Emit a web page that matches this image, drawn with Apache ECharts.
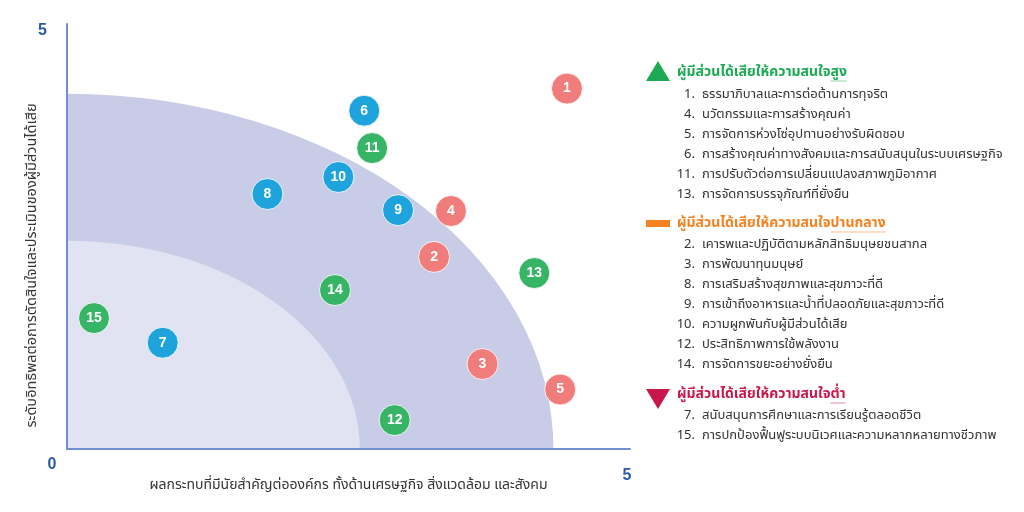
<!DOCTYPE html>
<html><head><meta charset="utf-8">
<script src="https://cdn.jsdelivr.net/npm/echarts@6/dist/echarts.min.js"></script>
<style>html,body{margin:0;padding:0;background:#fff}#c{width:1024px;height:512px}</style>
</head><body><div id="c"></div>
<script>
// ---- data ----
const issueIds   = [1, 2, 3, 4, 5, 6, 7, 8, 9, 10, 11, 12, 13, 14, 15];
const impactX    = [4.44, 3.26, 3.69, 3.41, 4.38, 2.64, 0.85, 1.78, 2.94, 2.41, 2.71, 2.91, 4.15, 2.38, 0.24];
const influenceY = [4.24, 2.26, 1.00, 2.80, 0.70, 3.98, 1.25, 3.00, 2.81, 3.20, 3.54, 0.34, 2.07, 1.87, 1.54];
const zoneRadiusX = [4.32, 2.60];
const zoneRadiusY = [4.18, 2.45];
const xTickLabels = ['0', '5'];
const yTickLabels = ['', '5'];
const xAxisTitle = 'ผลกระทบที่มีนัยสำคัญต่อองค์กร ทั้งด้านเศรษฐกิจ สิ่งแวดล้อม และสังคม';
const yAxisTitle = 'ระดับอิทธิพลต่อการตัดสินใจและประเมินของผู้มีส่วนได้เสีย';
const titlePrefix = 'ผู้มีส่วนได้เสียให้ความสนใจ';
const levelWords = ['สูง', 'ปานกลาง', 'ต่ำ'];
const highIds = [1, 4, 5, 6, 11, 13];
const highNames = ['ธรรมาภิบาลและการต่อต้านการทุจริต', 'นวัตกรรมและการสร้างคุณค่า', 'การจัดการห่วงโซ่อุปทานอย่างรับผิดชอบ', 'การสร้างคุณค่าทางสังคมและการสนับสนุนในระบบเศรษฐกิจ', 'การปรับตัวต่อการเปลี่ยนแปลงสภาพภูมิอากาศ', 'การจัดการบรรจุภัณฑ์ที่ยั่งยืน'];
const midIds = [2, 3, 8, 9, 10, 12, 14];
const midNames = ['เคารพและปฏิบัติตามหลักสิทธิมนุษยชนสากล', 'การพัฒนาทุนมนุษย์', 'การเสริมสร้างสุขภาพและสุขภาวะที่ดี', 'การเข้าถึงอาหารและน้ำที่ปลอดภัยและสุขภาวะที่ดี', 'ความผูกพันกับผู้มีส่วนได้เสีย', 'ประสิทธิภาพการใช้พลังงาน', 'การจัดการขยะอย่างยั่งยืน'];
const lowIds = [7, 15];
const lowNames = ['สนับสนุนการศึกษาและการเรียนรู้ตลอดชีวิต', 'การปกป้องฟื้นฟูระบบนิเวศและความหลากหลายทางชีวภาพ'];

// ---- styling ----
const THAI = "'Noto Sans Thai','Noto Sans Thai UI','Noto Sans','DejaVu Sans',sans-serif";
const bubbleColor = id => id <= 5 ? '#f07c7c' : (id <= 10 ? '#1ea3dd' : '#38b466');
const zoneColors = ['#c9cce7', '#e1e3f2'];
const axisColor = '#6f8fd0';
const tickColor = '#2a5aa8';

const chart = echarts.init(document.getElementById('c'));

const measure = (function () {
  const ctx = document.createElement('canvas').getContext('2d');
  return function (text, font) { ctx.font = font; return ctx.measureText(text).width; };
})();

function legendBlock(opts) {
  const els = [];
  const titleFont = 'bold 14px ' + THAI;
  els.push(opts.marker);
  els.push({ type: 'text', x: 677, y: opts.titleY, style: { text: titlePrefix + opts.word, fill: opts.color, font: titleFont, verticalAlign: 'middle', align: 'left' } });
  const w0 = measure(titlePrefix, titleFont), w1 = measure(titlePrefix + opts.word, titleFont);
  els.push({ type: 'line', shape: { x1: 677 + w0, y1: opts.titleY + 8, x2: 677 + w1, y2: opts.titleY + 8 }, style: { stroke: opts.lineColor, lineWidth: 1 } });
  opts.ids.forEach(function (id, i) {
    const y = opts.itemY + i * opts.step;
    els.push({ type: 'text', x: 695, y: y, style: { text: id + '.', fill: '#333', font: '13px ' + THAI, align: 'right', verticalAlign: 'middle' } });
    els.push({ type: 'text', x: 702, y: y, style: { text: opts.names[i], fill: '#333', font: '13px ' + THAI, align: 'left', verticalAlign: 'middle' } });
  });
  return els;
}

const graphics = [].concat(
  legendBlock({ marker: { type: 'polygon', shape: { points: [[646, 81], [670, 81], [658, 61]] }, style: { fill: '#1aaa52' } },
    word: levelWords[0], color: '#1aaa52', lineColor: '#8fd6a8', titleY: 73, ids: highIds, names: highNames, itemY: 95, step: 20 }),
  legendBlock({ marker: { type: 'rect', shape: { x: 646, y: 220, width: 24, height: 7 }, style: { fill: '#f58220' } },
    word: levelWords[1], color: '#f58220', lineColor: '#f9bf8f', titleY: 224, ids: midIds, names: midNames, itemY: 245, step: 20 }),
  legendBlock({ marker: { type: 'polygon', shape: { points: [[646, 389], [670, 389], [658, 409]] }, style: { fill: '#c8174b' } },
    word: levelWords[2], color: '#c8174b', lineColor: '#e78aa5', titleY: 395, ids: lowIds, names: lowNames, itemY: 416, step: 20 })
);

const option = {
  animation: false,
  backgroundColor: '#fff',
  grid: { left: 67, right: 394, top: 24, bottom: 63, containLabel: false },
  xAxis: {
    type: 'value', min: 0, max: 5, interval: 5, z: 5,
    axisLine: { show: true, lineStyle: { color: axisColor, width: 2 } },
    axisTick: { show: false }, splitLine: { show: false },
    axisLabel: {
      margin: 8, color: tickColor, fontSize: 16, fontFamily: 'Liberation Sans', fontWeight: 'bold',
      formatter: function (v) { return v === 0 ? '{a|' + xTickLabels[0] + '}' : '{b|' + xTickLabels[1] + '}'; },
      rich: { a: { color: tickColor, fontSize: 16, fontWeight: 'bold', padding: [0, 30, 0, 0] }, b: { color: tickColor, fontSize: 16, fontWeight: 'bold', padding: [11, 6, 0, 0] } }
    },
    name: xAxisTitle, nameLocation: 'middle', nameGap: 30, nameMoveOverlap: false,
    nameTextStyle: { color: '#333', fontSize: 14, fontFamily: THAI }
  },
  yAxis: {
    type: 'value', min: 0, max: 5, interval: 5, z: 5,
    axisLine: { show: true, lineStyle: { color: axisColor, width: 2 } },
    axisTick: { show: false }, splitLine: { show: false },
    axisLabel: {
      margin: 20, color: tickColor, fontSize: 16, fontFamily: 'Liberation Sans', fontWeight: 'bold',
      formatter: function (v) { return v === 0 ? yTickLabels[0] : '{b|' + yTickLabels[1] + '}'; },
      rich: { b: { color: tickColor, fontSize: 16, fontWeight: 'bold', padding: [14, 0, 0, 0] } }
    },
    name: yAxisTitle, nameLocation: 'middle', nameGap: 26, nameRotate: 90, nameMoveOverlap: false,
    nameTextStyle: { color: '#333', fontSize: 14.5, fontFamily: THAI, padding: [0, 58, 0, 0] }
  },
  series: [
    {
      type: 'custom', z: 1, silent: true, clip: true,
      data: zoneRadiusX.map((r, i) => [r, zoneRadiusY[i]]),
      encode: { x: 0, y: 1 },
      renderItem: function (params, api) {
        const o = api.coord([0, 0]);
        const rx = api.size([api.value(0), 0])[0];
        const ry = api.size([0, api.value(1)])[1];
        return {
          type: 'sector', x: o[0], y: o[1], scaleY: ry / rx,
          shape: { cx: 0, cy: 0, r: rx, r0: 0, startAngle: -Math.PI / 2, endAngle: 0, clockwise: true },
          style: { fill: zoneColors[params.dataIndex] }
        };
      }
    },
    {
      type: 'scatter', z: 3, symbolSize: 31,
      data: issueIds.map((id, i) => ({ value: [impactX[i], influenceY[i]], itemStyle: { color: bubbleColor(id) } })),
      itemStyle: { opacity: 1, borderColor: 'rgba(255,255,255,0.85)', borderWidth: 1 },
      label: { show: true, position: 'inside', formatter: p => String(issueIds[p.dataIndex]), color: '#fff', fontSize: 14, fontWeight: 'bold', fontFamily: 'Liberation Sans' }
    }
  ],
  graphic: graphics
};
chart.setOption(option);
</script></body></html>
